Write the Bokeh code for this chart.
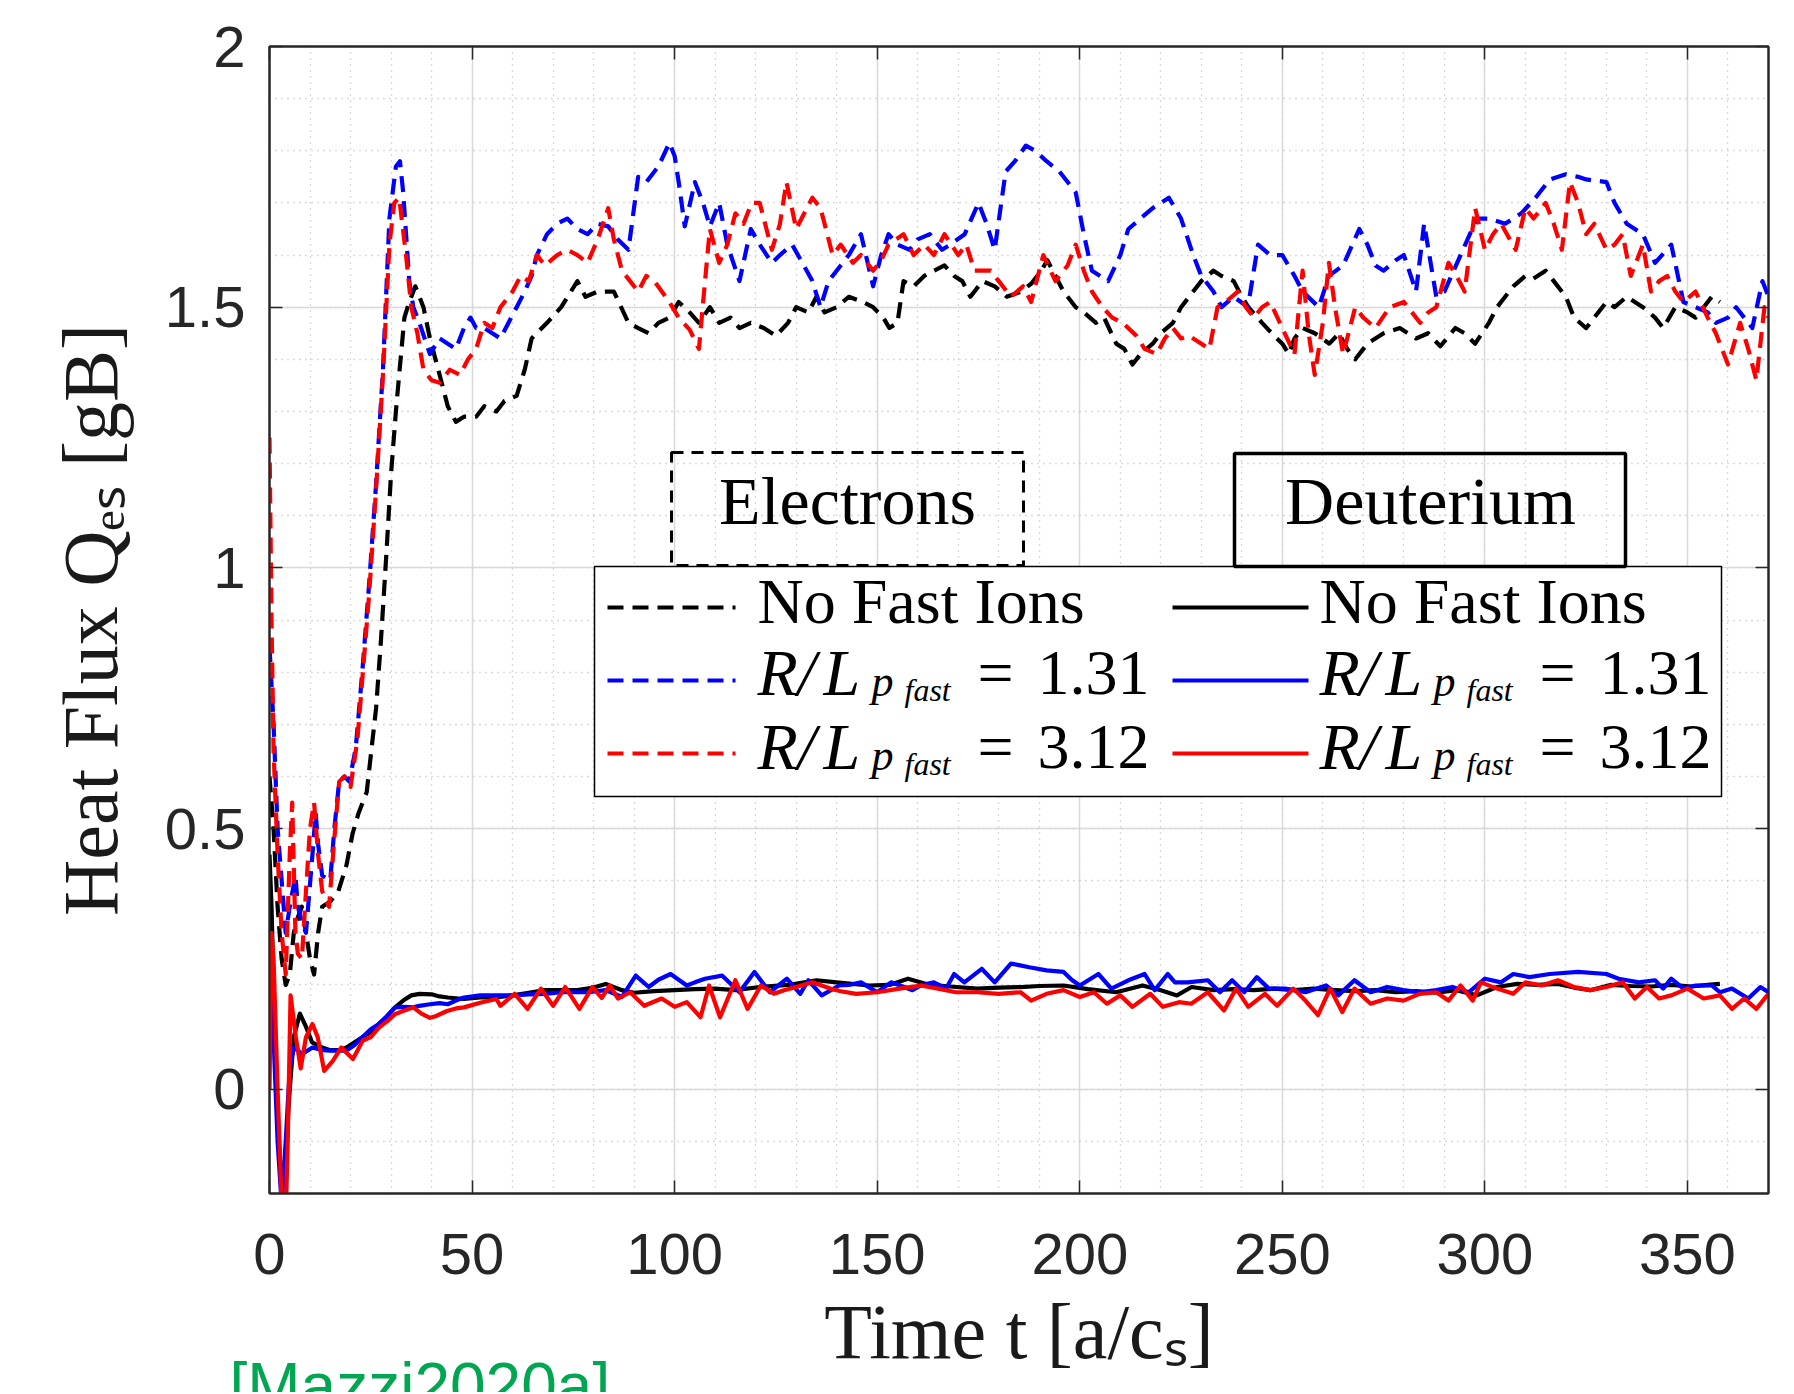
import math
from bokeh.plotting import figure
from bokeh.models import Range1d, SingleIntervalTicker, LinearAxis, Label, CustomJSTickFormatter, Title
from bokeh.embed import file_html
from bokeh.resources import INLINE

# ---------------- data (time [a/c_s], heat flux [gB]) ----------------
x_tick_step = 50
y_tick_step = 0.5
x_limits = (0, 370)
y_limits = (-0.2, 2.0)

# Electrons (dashed)
elec_no_fast = [(0, 0.60), (1, 0.50), (2, 0.35), (3, 0.25), (4, 0.20), (5, 0.22), (6, 0.30), (7, 0.33), (8, 0.35),
    (9, 0.30), (10, 0.25), (11, 0.22), (12, 0.30), (13, 0.35), (15, 0.36), (17, 0.38), (19, 0.43), (20.5, 0.49),
    (22, 0.53), (24, 0.57), (25, 0.64), (26.3, 0.73), (27.5, 0.86), (28.8, 1.02), (30, 1.18), (31.2, 1.30),
    (32, 1.37), (33.3, 1.48), (34.5, 1.51), (36, 1.54), (38, 1.50), (39.6, 1.44), (42, 1.37), (44, 1.31),
    (46, 1.28), (48, 1.29), (51, 1.29), (53, 1.31), (56, 1.30), (58, 1.32), (61, 1.33), (63, 1.38), (64.7, 1.44),
    (68.5, 1.47), (72, 1.50), (76, 1.55), (78, 1.52), (81, 1.53), (85, 1.53), (88.6, 1.47), (91, 1.46),
    (93.6, 1.45), (96, 1.47), (98.7, 1.48), (101, 1.51), (103.7, 1.49), (106, 1.47), (108.7, 1.50), (111, 1.47),
    (113.8, 1.48), (116, 1.46), (118.8, 1.47), (122, 1.46), (125, 1.445), (128, 1.47), (130, 1.50), (133, 1.49),
    (135, 1.52), (137, 1.49), (140, 1.50), (143, 1.52), (146.5, 1.51), (149, 1.50), (151.5, 1.48), (153, 1.46),
    (155, 1.47), (156.5, 1.55), (159, 1.54), (161.6, 1.56), (164, 1.57), (166.6, 1.58), (169, 1.56), (171, 1.55),
    (173, 1.52), (176, 1.55), (179, 1.54), (182, 1.52), (185.5, 1.53), (188, 1.545), (190.5, 1.57), (192, 1.59),
    (194, 1.56), (196, 1.53), (199, 1.50), (201, 1.49), (204, 1.47), (206, 1.48), (209, 1.43), (211, 1.42),
    (213, 1.39), (215, 1.41), (218, 1.43), (220, 1.45), (223, 1.47), (225, 1.50), (228, 1.53), (230, 1.55),
    (233, 1.57), (235, 1.56), (238, 1.55), (240, 1.52), (241.6, 1.50), (245, 1.47), (248, 1.445), (250, 1.43),
    (251.6, 1.41), (253, 1.44), (255, 1.46), (258, 1.45), (261.6, 1.43), (264, 1.45), (266, 1.42), (268, 1.40),
    (271, 1.43), (275, 1.45), (279, 1.46), (283, 1.44), (286, 1.45), (289, 1.425), (292.7, 1.46), (295, 1.45),
    (297.6, 1.43), (301, 1.47), (303, 1.50), (305, 1.52), (307, 1.54), (310, 1.56), (312, 1.555), (315, 1.57),
    (317, 1.55), (320, 1.52), (322, 1.48), (325, 1.46), (327, 1.48), (330, 1.51), (332, 1.50), (335, 1.52),
    (337, 1.51), (339, 1.50), (342, 1.48), (344, 1.46), (347, 1.50), (350, 1.49), (352, 1.48), (354, 1.50),
    (356, 1.52), (358, 1.51)]

elec_131 = [(0, 0.85), (1, 0.70), (2, 0.50), (3, 0.40), (4, 0.30), (5, 0.35), (6.4, 0.41), (7, 0.35), (8, 0.32),
    (9, 0.30), (10.6, 0.45), (11.4, 0.53), (12, 0.47), (13, 0.41), (15, 0.40), (16, 0.50), (17.2, 0.59),
    (18.5, 0.60), (19.7, 0.59), (21.3, 0.655), (23, 0.81), (24.6, 0.97), (26.3, 1.16), (28, 1.38), (29.6, 1.67),
    (31.2, 1.77), (32.2, 1.78), (33, 1.72), (34.5, 1.55), (35.5, 1.50), (37, 1.47), (39.6, 1.41), (42, 1.44),
    (44, 1.43), (46, 1.42), (48, 1.46), (49.6, 1.48), (51, 1.46), (53, 1.46), (55, 1.45), (57, 1.44), (59, 1.47),
    (61, 1.50), (63, 1.53), (64.7, 1.56), (66, 1.60), (68.5, 1.64), (71, 1.66), (73.5, 1.67), (76, 1.65),
    (78.5, 1.64), (81, 1.66), (83.6, 1.655), (86, 1.63), (88.6, 1.61), (91, 1.75), (93, 1.74), (96, 1.77),
    (98.7, 1.815), (100, 1.79), (101, 1.74), (102.5, 1.655), (105, 1.74), (107, 1.70), (108.7, 1.655), (111, 1.70),
    (113, 1.62), (116, 1.55), (118.8, 1.65), (121, 1.62), (124, 1.585), (126, 1.60), (129, 1.62), (132.6, 1.57),
    (134, 1.55), (136, 1.50), (138, 1.55), (141, 1.58), (143, 1.60), (146, 1.64), (149, 1.54), (151, 1.60),
    (152.8, 1.64), (155, 1.62), (158, 1.61), (160, 1.63), (163, 1.64), (166, 1.61), (168, 1.62), (171.6, 1.64),
    (175, 1.70), (177, 1.66), (179, 1.61), (181.7, 1.76), (184, 1.78), (186.7, 1.81), (189, 1.80), (191.8, 1.78),
    (195, 1.76), (199, 1.72), (201, 1.64), (203, 1.57), (207, 1.55), (210, 1.60), (212, 1.65), (215, 1.67),
    (218, 1.69), (222, 1.71), (225, 1.67), (228, 1.60), (230, 1.56), (233, 1.53), (235, 1.50), (238, 1.52),
    (241.5, 1.50), (244, 1.62), (247, 1.60), (250, 1.60), (253, 1.56), (255, 1.53), (259, 1.50), (261.5, 1.56),
    (265, 1.58), (269, 1.65), (271, 1.62), (273, 1.58), (275, 1.57), (278, 1.59), (280, 1.60), (283, 1.53),
    (285, 1.66), (288, 1.52), (290, 1.53), (294, 1.60), (298, 1.67), (301, 1.67), (305, 1.66), (309, 1.68),
    (312.5, 1.71), (316, 1.745), (320, 1.755), (323, 1.75), (325, 1.745), (330, 1.74), (332, 1.70), (335, 1.66),
    (339, 1.64), (342, 1.585), (346, 1.62), (349, 1.51), (352, 1.50), (355, 1.49), (357, 1.47), (360, 1.48),
    (362, 1.50), (364, 1.48), (366, 1.46), (368.5, 1.55), (370, 1.52)]

elec_312 = [(0, 1.25), (0.5, 0.90), (1, 0.65), (2, 0.45), (3, 0.30), (4, 0.22), (5, 0.45), (5.6, 0.55), (6.4, 0.30),
    (7, 0.26), (8, 0.25), (9, 0.38), (10, 0.50), (11, 0.55), (12, 0.45), (13, 0.38), (14.7, 0.35), (16, 0.48),
    (17.2, 0.59), (18.5, 0.60), (20, 0.58), (21.7, 0.67), (23, 0.795), (24.6, 0.95), (26.3, 1.15), (28, 1.37),
    (29.6, 1.62), (30.8, 1.70), (32, 1.71), (33.7, 1.60), (35, 1.50), (36.5, 1.45), (38, 1.38), (40, 1.36),
    (42, 1.355), (44.5, 1.38), (47, 1.37), (49, 1.40), (51, 1.42), (53, 1.47), (55, 1.46), (57, 1.50), (60, 1.53),
    (62, 1.56), (64, 1.55), (66, 1.60), (68, 1.58), (71, 1.60), (73.5, 1.61), (76, 1.60), (78.5, 1.585),
    (81, 1.63), (83.6, 1.69), (85, 1.63), (87, 1.57), (89, 1.55), (91, 1.53), (93, 1.56), (95, 1.55),
    (98.7, 1.51), (101, 1.48), (103.7, 1.457), (106, 1.42), (107.5, 1.55), (108.7, 1.65), (111, 1.585),
    (113, 1.62), (115, 1.68), (117, 1.66), (119, 1.70), (121, 1.70), (124, 1.61), (126, 1.66), (127.6, 1.74),
    (130, 1.65), (132, 1.68), (134, 1.71), (136, 1.69), (139, 1.60), (141, 1.62), (144, 1.585), (146, 1.60),
    (149, 1.57), (151, 1.59), (152.8, 1.62), (156.5, 1.64), (159, 1.60), (161.6, 1.62), (164, 1.60),
    (166.6, 1.64), (170, 1.60), (172, 1.62), (174, 1.57), (178, 1.57), (180, 1.55), (183, 1.52), (186, 1.54),
    (188, 1.51), (191, 1.60), (194, 1.55), (197, 1.58), (199, 1.62), (201, 1.57), (203, 1.53), (205.6, 1.50),
    (208, 1.48), (210.6, 1.47), (214, 1.445), (216, 1.42), (219, 1.41), (221, 1.44), (223, 1.46), (225, 1.44),
    (227, 1.445), (230, 1.43), (232, 1.42), (234, 1.50), (236, 1.51), (239, 1.53), (241, 1.50), (243, 1.48),
    (245, 1.50), (247, 1.51), (250, 1.46), (253, 1.41), (255, 1.57), (256.5, 1.45), (258, 1.37), (260, 1.47),
    (261.5, 1.585), (263, 1.50), (265, 1.41), (268, 1.50), (270, 1.48), (273, 1.46), (276.5, 1.50), (280, 1.51),
    (282, 1.49), (284, 1.47), (286, 1.49), (288, 1.50), (291, 1.585), (293, 1.56), (295, 1.53), (297.6, 1.69),
    (300, 1.61), (302, 1.64), (304, 1.66), (307.6, 1.61), (310, 1.69), (312, 1.67), (315, 1.70), (317, 1.66),
    (319, 1.61), (321, 1.74), (323, 1.70), (325, 1.64), (327, 1.66), (330, 1.61), (332, 1.62), (334, 1.64),
    (336, 1.56), (339, 1.62), (341, 1.53), (343, 1.55), (345, 1.56), (347, 1.53), (349, 1.51), (352, 1.53),
    (355, 1.48), (357, 1.45), (360, 1.39), (361.5, 1.43), (363, 1.47), (365, 1.42), (367, 1.36), (369, 1.50),
    (370, 1.48)]

# Deuterium (solid)
deut_no_fast = [(0, 0.45), (0.5, 0.35), (1, 0.20), (2, -0.05), (3, -0.20), (4, -0.12), (5, 0.0), (6, 0.10),
    (7.5, 0.145), (9, 0.12), (10.5, 0.09), (13, 0.08), (15, 0.075), (17, 0.075), (19, 0.08), (21, 0.09),
    (23, 0.10), (25, 0.11), (27, 0.125), (29, 0.14), (31, 0.157), (33, 0.17), (35, 0.18), (37, 0.183),
    (40, 0.182), (42, 0.178), (44, 0.176), (48, 0.173), (52, 0.176), (56, 0.176), (60, 0.18), (64, 0.185),
    (68, 0.19), (72, 0.19), (76, 0.19), (80, 0.195), (83, 0.202), (87, 0.19), (90, 0.185), (95, 0.188),
    (100, 0.19), (105, 0.192), (110, 0.193), (115, 0.19), (121, 0.196), (128, 0.20), (135, 0.209), (140, 0.205),
    (148, 0.199), (153, 0.20), (157.6, 0.212), (163, 0.20), (168, 0.197), (174.7, 0.193), (180, 0.195),
    (185.4, 0.196), (190, 0.198), (196, 0.199), (202, 0.192), (209, 0.186), (215.5, 0.199), (220, 0.19),
    (224, 0.18), (227.6, 0.196), (233, 0.19), (238, 0.192), (243, 0.19), (248, 0.193), (253, 0.19),
    (257.7, 0.193), (263, 0.19), (268, 0.188), (273, 0.19), (278, 0.186), (283, 0.188), (288, 0.185),
    (293, 0.19), (298, 0.18), (303, 0.196), (308, 0.202), (313, 0.20), (318, 0.202), (322, 0.195), (326, 0.19),
    (331, 0.20), (336, 0.198), (341, 0.197), (346, 0.20), (351, 0.197), (355, 0.20), (358, 0.202)]

deut_131 = [(0, 0.25), (1, 0.10), (2, -0.10), (3, -0.22), (4, -0.10), (5, 0.04), (6, 0.08), (7, 0.075), (8, 0.067),
    (10.6, 0.08), (13, 0.075), (15, 0.074), (19, 0.074), (21, 0.085), (23, 0.10), (25, 0.115), (27, 0.125),
    (29, 0.14), (31, 0.157), (33, 0.158), (35.5, 0.157), (37, 0.16), (39.6, 0.163), (42, 0.165), (44, 0.163),
    (46, 0.17), (48, 0.176), (52, 0.18), (56, 0.18), (60, 0.18), (64, 0.182), (68, 0.183), (72, 0.186),
    (78.7, 0.186), (83, 0.19), (87, 0.177), (90.4, 0.218), (93.6, 0.196), (96, 0.21), (99, 0.221), (103, 0.199),
    (105, 0.205), (107.5, 0.212), (111.7, 0.218), (116, 0.186), (119.7, 0.225), (123.5, 0.186), (127.7, 0.212),
    (131, 0.183), (133, 0.209), (136.3, 0.18), (140.6, 0.199), (143, 0.20), (146, 0.205), (150, 0.186),
    (153.4, 0.205), (156, 0.198), (158.7, 0.19), (161, 0.20), (164, 0.205), (167, 0.193), (169, 0.221),
    (171.5, 0.205), (175.8, 0.231), (179, 0.205), (183, 0.241), (185, 0.238), (187.5, 0.234), (191.8, 0.228),
    (196, 0.225), (198, 0.21), (200, 0.199), (204.6, 0.221), (207.8, 0.193), (212, 0.209), (216, 0.221),
    (218.5, 0.19), (221.7, 0.221), (223.5, 0.205), (226.6, 0.205), (231.6, 0.209), (234.6, 0.186),
    (237.6, 0.209), (240.6, 0.186), (243.7, 0.215), (246.7, 0.193), (250.7, 0.193), (255.7, 0.186),
    (260.8, 0.199), (263.8, 0.18), (267.8, 0.209), (271.8, 0.186), (275.9, 0.196), (279.9, 0.19),
    (283.9, 0.186), (288, 0.19), (292, 0.196), (296, 0.186), (300, 0.212), (304, 0.205), (307, 0.221),
    (311, 0.215), (316, 0.221), (323, 0.225), (330, 0.221), (333, 0.212), (338, 0.205), (342, 0.209),
    (344, 0.193), (346, 0.212), (349, 0.193), (352, 0.199), (356, 0.199), (358, 0.186), (361, 0.193),
    (365, 0.174), (368, 0.196), (370, 0.186)]

deut_312 = [(0, 0.0), (0.5, 0.30), (1, 0.25), (2, 0.0), (3, -0.22), (4, -0.25), (4.5, -0.10), (5.2, 0.18),
    (6.5, 0.10), (7.7, 0.04), (9, 0.10), (10.6, 0.125), (11.9, 0.10), (13.5, 0.035), (15.6, 0.054), (17.7, 0.08),
    (19, 0.07), (20.6, 0.058), (23, 0.093), (25, 0.10), (27, 0.118), (29, 0.13), (31, 0.144), (33, 0.15),
    (35.5, 0.157), (37.5, 0.145), (39.6, 0.137), (41, 0.14), (43.8, 0.15), (46, 0.155), (48, 0.157), (52, 0.166),
    (56, 0.173), (57, 0.16), (60.5, 0.183), (63.7, 0.154), (67, 0.193), (70, 0.16), (73, 0.196), (76.5, 0.154),
    (79.7, 0.196), (82, 0.175), (84, 0.199), (86, 0.174), (89, 0.186), (92.5, 0.16), (96.8, 0.174), (100, 0.158),
    (103, 0.167), (106.4, 0.138), (108.5, 0.199), (111.2, 0.138), (115, 0.209), (118, 0.154), (121.3, 0.199),
    (124.5, 0.183), (127, 0.19), (130, 0.196), (134, 0.205), (138.4, 0.193), (141, 0.188), (144.8, 0.183),
    (150, 0.186), (155.5, 0.193), (160.8, 0.199), (165, 0.193), (169.4, 0.186), (174.7, 0.186), (180, 0.183),
    (185.4, 0.186), (188, 0.17), (191.8, 0.183), (196, 0.19), (200, 0.177), (203.5, 0.186), (206.7, 0.164),
    (210, 0.18), (213, 0.158), (217.4, 0.183), (220.5, 0.158), (224.5, 0.167), (227.5, 0.164), (231.6, 0.186),
    (235.6, 0.151), (238.6, 0.193), (241.6, 0.158), (245.7, 0.183), (248.7, 0.16), (252.7, 0.193),
    (255.7, 0.17), (258.8, 0.142), (261.8, 0.193), (264.8, 0.148), (267.8, 0.193), (271.8, 0.164),
    (275.9, 0.174), (279.9, 0.17), (283.9, 0.183), (288, 0.186), (291, 0.17), (294, 0.199), (297, 0.17),
    (299, 0.205), (303, 0.193), (307, 0.183), (310, 0.205), (314, 0.199), (318, 0.209), (322, 0.196),
    (326, 0.19), (330, 0.196), (334, 0.205), (337, 0.174), (340, 0.196), (343, 0.174), (346, 0.18),
    (350, 0.193), (354, 0.174), (358, 0.18), (361, 0.154), (364, 0.174), (367, 0.154), (370, 0.183)]

series_colors = {"none": "#000000", "131": "#0000ff", "312": "#ff0000"}
legend_rows = ["No Fast Ions", "1.31", "3.12"]
x_title = "Time t [a/cₛ]"
y_title = "Heat Flux Qₑₛ [gB]"
citation = "[Mazzi2020a]"

# ---------------- layout constants (pixels) ----------------
FW, FH = 1499, 1147
X0, X1 = x_limits
Y0, Y1 = y_limits
SERIF = "Liberation Serif"
SANS = "Liberation Sans"
DASH = "16 9"
AX_COLOR = "#262626"
LW = 4.2
TXT_UP = 21  # baseline correction for Label text


def fx(ox):
    return X0 + ox * (X1 - X0) / FW


def fy(oy):
    return Y0 + oy * (Y1 - Y0) / FH


p = figure(frame_width=FW, frame_height=FH,
           x_range=Range1d(X0, X1), y_range=Range1d(Y0, Y1),
           output_backend="svg", toolbar_location=None,
           min_border_left=269, min_border_right=18, min_border_top=46, min_border_bottom=190,
           background_fill_color="white", border_fill_color="white")

xt = SingleIntervalTicker(interval=x_tick_step, num_minor_ticks=5)
yt = SingleIntervalTicker(interval=y_tick_step, num_minor_ticks=5)
p.xaxis.ticker = xt
p.yaxis.ticker = yt
p.xgrid.ticker = xt
p.ygrid.ticker = yt
p.yaxis.formatter = CustomJSTickFormatter(code="return String(Number(tick.toFixed(2)));")

for g in (p.xgrid, p.ygrid):
    g.grid_line_color = "#d9d9d9"
    g.grid_line_width = 1.5
    g.minor_grid_line_color = "#b3b3b3"
    g.minor_grid_line_width = 1.3
    g.minor_grid_line_dash = "1 5"

for ax in (p.xaxis, p.yaxis):
    ax.major_label_text_font = SANS
    ax.major_label_text_font_size = "58px"
    ax.major_label_text_color = AX_COLOR
    ax.axis_line_color = AX_COLOR
    ax.axis_line_width = 2
    ax.major_tick_line_color = AX_COLOR
    ax.major_tick_line_width = 1.5
    ax.major_tick_in = 13
    ax.major_tick_out = 0
    ax.minor_tick_in = 0
    ax.minor_tick_out = 0
    ax.axis_label_text_font = SERIF
    ax.axis_label_text_font_size = "78px"
    ax.axis_label_text_font_style = "normal"
    ax.axis_label_text_color = "#1a1a1a"
p.xaxis.major_label_standoff = 40
p.yaxis.major_label_standoff = 24
p.xaxis.axis_label = x_title
p.yaxis.axis_label = y_title
p.xaxis.axis_label_standoff = 11
p.yaxis.axis_label_standoff = 28

blank = CustomJSTickFormatter(code="return '';")
for side, tk in (("above", xt), ("right", yt)):
    ax2 = LinearAxis(ticker=tk, formatter=blank, major_tick_in=13, major_tick_out=0,
                     minor_tick_in=0, minor_tick_out=0, major_label_standoff=0,
                     axis_line_color=AX_COLOR, axis_line_width=2, major_tick_line_color=AX_COLOR,
                     major_tick_line_width=1.5, major_label_text_font_size="1px")
    p.add_layout(ax2, side)
p.outline_line_color = AX_COLOR
p.outline_line_width = 2

# citation tag below the axis title (partly cut by the page bottom, as in the source)
p.add_layout(Title(text=citation, align="left", offset=-40, standoff=-59,
                   text_font=SANS, text_font_size="64px", text_font_style="normal",
                   text_color="#00a651"), "below")

# ---------------- data lines ----------------
def draw(series, color, dash):
    t, q = zip(*series)
    kw = dict(line_color=color, line_width=LW, line_join="round")
    if dash:
        kw["line_dash"] = DASH
    p.line(list(t), list(q), **kw)


draw(elec_no_fast, series_colors["none"], True)
draw(elec_131, series_colors["131"], True)
draw(elec_312, series_colors["312"], True)
draw(deut_no_fast, series_colors["none"], False)
draw(deut_131, series_colors["131"], False)
draw(deut_312, series_colors["312"], False)

# ---------------- legend (drawn by hand) ----------------
p.quad(left=fx(325), right=fx(1452), bottom=fy(397), top=fy(627),
       fill_color="white", line_color="black", line_width=1.5)
p.quad(left=fx(402), right=fx(754), bottom=fy(628), top=fy(741),
       fill_alpha=0, line_color="black", line_width=3, line_dash="12 8")
p.quad(left=fx(965), right=fx(1356), bottom=fy(627), top=fy(740),
       fill_alpha=0, line_color="black", line_width=3.5)


def txt(s, ox, oy, size, style="normal", align="left", color="black", font=SERIF):
    p.add_layout(Label(x=X0, y=Y0, x_offset=ox, y_offset=oy + TXT_UP, text=s, text_font=font,
                       text_font_size=f"{size}px", text_font_style=style, text_align=align,
                       text_baseline="alphabetic", text_color=color))


txt("Electrons", 578, 672, 68, align="center")
txt("Deuterium", 1161, 672, 68, align="center")

row_line_y = [586, 513, 440]
row_base_y = [571, 500, 426]
keys = ["none", "131", "312"]
for col, (lx0, lx1, tx, dashed) in enumerate([(338, 466, 488, True), (903, 1039, 1050, False)]):
    for i, key in enumerate(keys):
        yy = fy(row_line_y[i])
        kw = dict(line_color=series_colors[key], line_width=LW)
        if dashed:
            kw["line_dash"] = DASH
        p.segment(x0=[fx(lx0)], y0=[yy], x1=[fx(lx1)], y1=[yy], **kw)
        b = row_base_y[i]
        if i == 0:
            txt(legend_rows[0], tx, b, 64)
        else:
            txt("R", tx, b, 66, style="italic")
            txt("/", tx + 40, b, 66, style="italic")
            txt("L", tx + 66, b, 66, style="italic")
            txt("p", tx + 114, b - 9, 44, style="italic")
            txt("fast", tx + 147, b - 17, 32, style="italic")
            txt("=", tx + 220, b, 64)
            txt(legend_rows[i], tx + 280, b, 64)

open("out.html", "w").write(file_html(p, INLINE))
